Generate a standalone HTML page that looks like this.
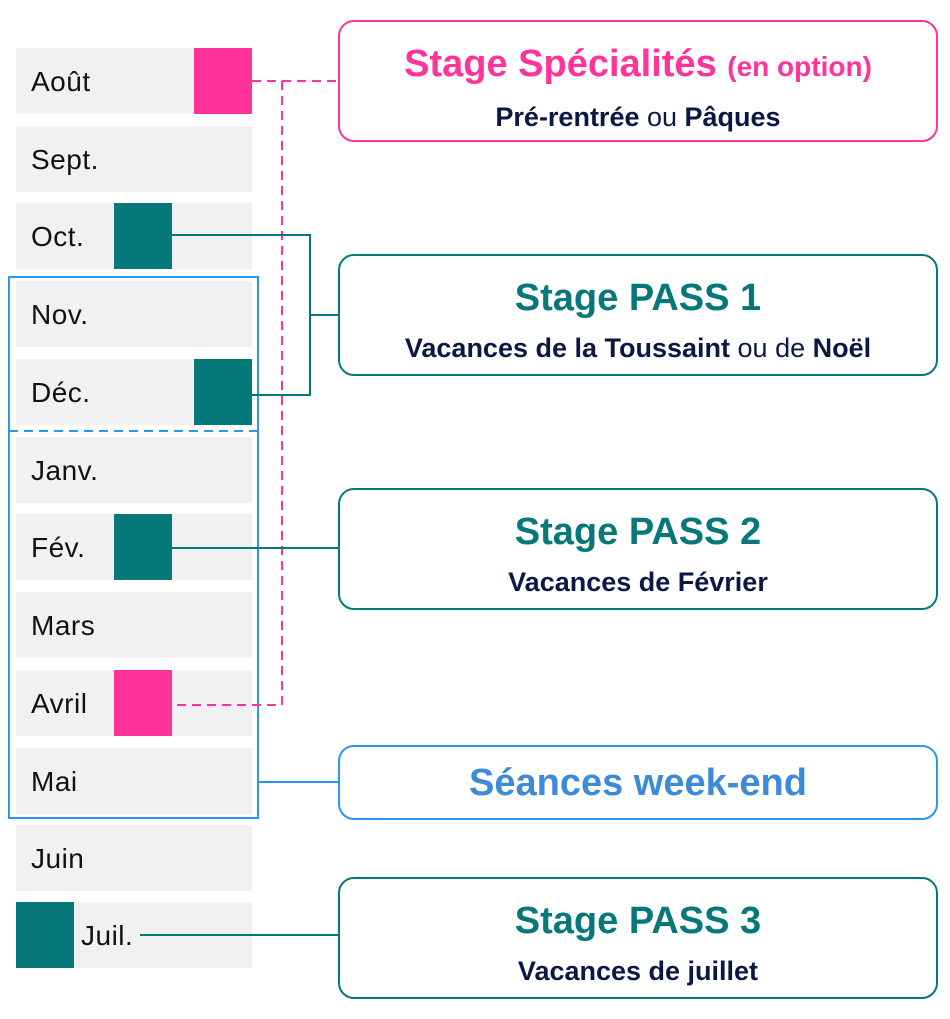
<!DOCTYPE html>
<html><head><meta charset="utf-8"><style>
body{margin:0;width:950px;height:1019px;background:#fff;position:relative;overflow:hidden;font-family:"Liberation Sans",sans-serif}
.r{position:absolute;left:16px;width:236px;height:66px;background:#f1f1f1}
.l{position:absolute;font-size:28px;color:#111;line-height:68px;letter-spacing:0.5px}
.sq{position:absolute;width:58px;height:66px}
.b{position:absolute;left:338px;width:600px;border:2px solid;border-radius:16px;background:#fff;text-align:center;box-sizing:border-box}
.t{font-weight:bold;font-size:38px;letter-spacing:0px;line-height:44px}
.s{font-weight:bold;font-size:27px;color:#0c1844;letter-spacing:0px;line-height:32px}
.s span{font-weight:normal}
svg{position:absolute;left:0;top:0}
</style></head><body>
<div class="r" style="top:48px"></div><div class="l" style="left:31px;top:48px">Août</div>
<div class="r" style="top:126px"></div><div class="l" style="left:31px;top:126px">Sept.</div>
<div class="r" style="top:203px"></div><div class="l" style="left:31px;top:203px">Oct.</div>
<div class="r" style="top:281px"></div><div class="l" style="left:31px;top:281px">Nov.</div>
<div class="r" style="top:359px"></div><div class="l" style="left:31px;top:359px">Déc.</div>
<div class="r" style="top:437px"></div><div class="l" style="left:31px;top:437px">Janv.</div>
<div class="r" style="top:514px"></div><div class="l" style="left:31px;top:514px">Fév.</div>
<div class="r" style="top:592px"></div><div class="l" style="left:31px;top:592px">Mars</div>
<div class="r" style="top:670px"></div><div class="l" style="left:31px;top:670px">Avril</div>
<div class="r" style="top:748px"></div><div class="l" style="left:31px;top:748px">Mai</div>
<div class="r" style="top:825px"></div><div class="l" style="left:31px;top:825px">Juin</div>
<div class="r" style="top:902px"></div><div class="l" style="left:81px;top:902px">Juil.</div>
<div class="sq" style="left:194px;top:48px;background:#ff3399"></div>
<div class="sq" style="left:114px;top:670px;background:#ff3399"></div>
<div class="sq" style="left:114px;top:203px;background:#06787a"></div>
<div class="sq" style="left:194px;top:359px;background:#06787a"></div>
<div class="sq" style="left:114px;top:514px;background:#06787a"></div>
<div class="sq" style="left:16px;top:902px;background:#06787a"></div>
<svg width="950" height="1019">
<rect x="9" y="277" width="249" height="541" fill="none" stroke="#2b97f0" stroke-width="2"/>
<line x1="9" y1="431" x2="258" y2="431" stroke="#2b97f0" stroke-width="2" stroke-dasharray="9,6"/>
<path d="M252 81 H338 M282 81 V705 H171" fill="none" stroke="#ff3399" stroke-width="2" stroke-dasharray="9,6"/>
<path d="M171 235 H310 V395 H252 M310 315 H338 M171 548 H338 M140 935 H338" fill="none" stroke="#06787a" stroke-width="2"/>
<line x1="258" y1="782" x2="338" y2="782" stroke="#2b97f0" stroke-width="2"/>
</svg>
<div class="b" style="top:20px;height:122px;border-color:#ff3399;padding-top:20px">
<div class="t" style="color:#ff3399">Stage Spécialités <span style="font-size:28px">(en option)</span></div>
<div class="s" style="margin-top:12px">Pré-rentrée <span>ou</span> Pâques</div></div>
<div class="b" style="top:254px;height:122px;border-color:#06787a;padding-top:20px">
<div class="t" style="color:#06787a">Stage PASS 1</div>
<div class="s" style="margin-top:12px">Vacances de la Toussaint <span>ou de</span> Noël</div></div>
<div class="b" style="top:488px;height:122px;border-color:#06787a;padding-top:20px">
<div class="t" style="color:#06787a">Stage PASS 2</div>
<div class="s" style="margin-top:12px">Vacances de Février</div></div>
<div class="b" style="top:745px;height:75px;border-color:#2b97f0;padding-top:14px">
<div class="t" style="color:#3d8bd6">Séances week-end</div></div>
<div class="b" style="top:877px;height:122px;border-color:#06787a;padding-top:20px">
<div class="t" style="color:#06787a">Stage PASS 3</div>
<div class="s" style="margin-top:12px">Vacances de juillet</div></div>
</body></html>
